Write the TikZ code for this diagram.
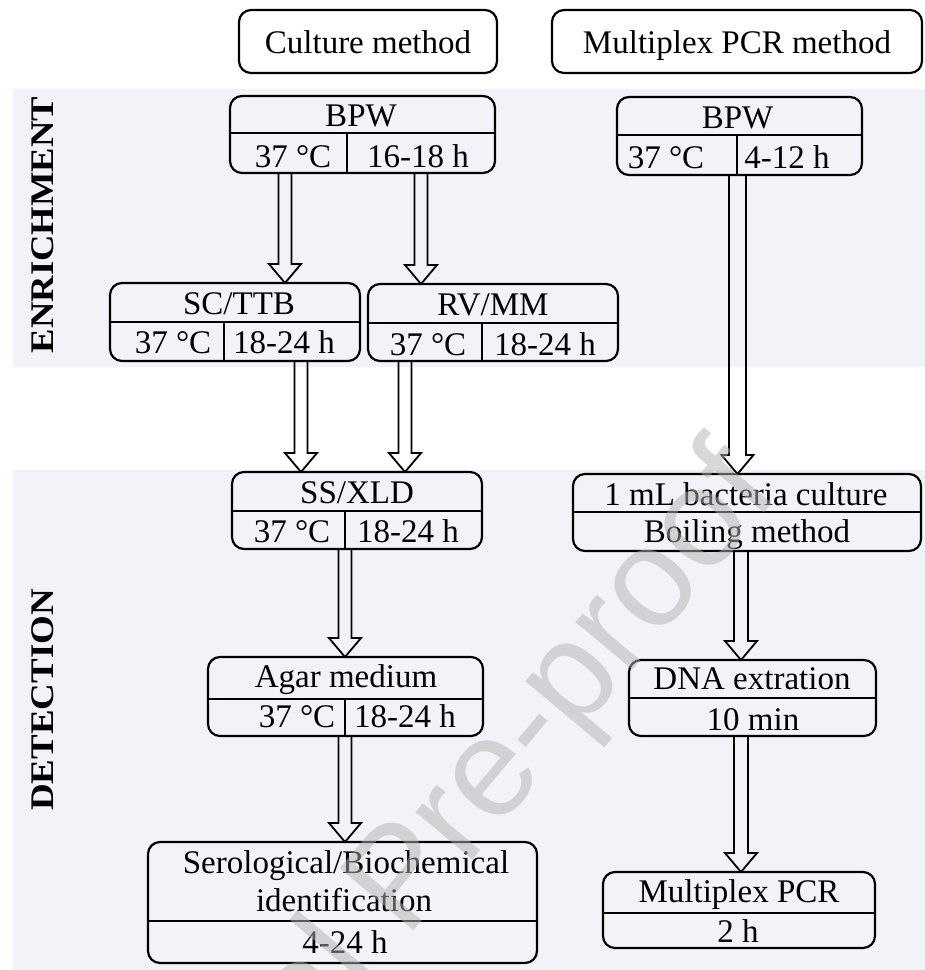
\documentclass[tikz,border=0pt]{standalone}
\usepackage{fontspec}
\setmainfont{Liberation Serif}
\newfontfamily\wmfont{Liberation Sans}
\usetikzlibrary{calc}
\definecolor{band}{RGB}{241,243,248}
\newcommand\rbox[5]{\node[box, minimum width={#4-#2}, minimum height={#5-#3}] (#1) at ({(#2+#4)/2},{(#3+#5)/2}) {};}
\newcommand\blockarr[3]{%
  \draw[arrline] let \p1=#1, \p2=#2 in
   (\x1-#3pt,\y1) -- (\x1-#3pt,\y2+19pt) -- (\x1-16pt,\y2+19pt) -- (\x1,\y2)
   -- (\x1+16pt,\y2+19pt) -- (\x1+#3pt,\y2+19pt) -- (\x1+#3pt,\y1);}
\begin{document}
\begin{tikzpicture}[x=1pt,y=-1pt,
  every node/.style={font=\fontsize{33}{38}\selectfont, inner sep=0pt, outer sep=0pt},
  box/.style={draw, line width=2.2pt, rounded corners=12pt},
  sep/.style={line width=2pt},
  arrline/.style={line width=1.8pt, line join=miter},
  lbl/.style={anchor=base},
  side/.style={rotate=90, font=\bfseries\fontsize{33}{38}\selectfont},
  wm/.style={rotate=50, anchor=base east, text=gray!60, text opacity=0.5,
    font=\wmfont\fontsize{140}{140}\selectfont}]
\useasboundingbox (0,0) rectangle (925,970);
\fill[white] (0,0) rectangle (925,970);
% bands
\fill[band] (13,89) rectangle (925,367);
\fill[band] (13,470) rectangle (925,970);
\node[side] (enr) at (43,225) {\scalebox{1.11}[1]{ENRICHMENT}};
\node[side] (det) at (43,700) {\scalebox{1.12}[1]{DETECTION}};
% headers
\rbox{H1}{239}{10}{497}{73}
\rbox{H2}{552}{10}{922}{73}
\node[lbl] (tH1) at (368,53) {Culture method};
\node[lbl] (tH2) at (737,53) {Multiplex PCR method};
% culture column
\rbox{B1}{230}{96}{495}{173}
\draw[sep] (230,133) -- (495,133); \draw[sep] (347,133) -- (347,173);
\node[lbl] (tB1) at (361,126) {BPW};
\node[lbl] (tB1a) at (293,167) {37 °C};
\node[lbl] (tB1b) at (418,167) {16-18 h};
\rbox{SC}{110}{283}{360}{361}
\draw[sep] (110,322) -- (360,322); \draw[sep] (224,322) -- (224,361);
\node[lbl] (tSC) at (239,314) {SC/TTB};
\node[lbl] (tSCa) at (173,353) {37 °C};
\node[lbl] (tSCb) at (284,353) {18-24 h};
\rbox{RV}{368}{284}{618}{361}
\draw[sep] (368,323) -- (618,323); \draw[sep] (482,323) -- (482,361);
\node[lbl] (tRV) at (493,315) {RV/MM};
\node[lbl] (tRVa) at (428,355) {37 °C};
\node[lbl] (tRVb) at (545,355) {18-24 h};
\rbox{SS}{232}{472}{482}{549}
\draw[sep] (232,511) -- (482,511); \draw[sep] (345,511) -- (345,549);
\node[lbl] (tSS) at (357,503) {SS/XLD};
\node[lbl] (tSSa) at (292,542) {37 °C};
\node[lbl] (tSSb) at (408,542) {18-24 h};
\rbox{AG}{208}{657}{483}{736}
\draw[sep] (208,699) -- (483,699); \draw[sep] (345,699) -- (345,736);
\node[lbl] (tAG) at (346,687) {Agar medium};
\node[lbl] (tAGa) at (297,727) {37 °C};
\node[lbl] (tAGb) at (405,727) {18-24 h};
\rbox{SE}{148}{842}{537}{963}
\draw[sep] (148,921) -- (537,921);
\node[lbl] (tSE1) at (346,873) {Serological/Biochemical};
\node[lbl] (tSE2) at (344,911) {identification};
\node[lbl] (tSE3) at (345,953) {4-24 h};
% PCR column
\rbox{B2}{617}{97}{862}{175}
\draw[sep] (617,135) -- (862,135); \draw[sep] (737,135) -- (737,175);
\node[lbl] (tB2) at (737.5,128) {BPW};
\node[lbl] (tB2a) at (666,168) {37 °C};
\node[lbl] (tB2b) at (787,168) {4-12 h};
\rbox{BO}{573}{474}{921}{551}
\draw[sep] (573,512) -- (921,512);
\node[lbl] (tBO1) at (746,505) {1 mL bacteria culture};
\node[lbl] (tBO2) at (747,542) {Boiling method};
\rbox{DN}{629}{660}{876}{736}
\draw[sep] (629,698) -- (876,698);
\node[lbl] (tDN1) at (752,689) {DNA extration};
\node[lbl] (tDN2) at (753,730) {10 min};
\rbox{MP}{603}{872}{875}{948}
\draw[sep] (603,913) -- (875,913);
\node[lbl] (tMP1) at (739,902) {Multiplex PCR};
\node[lbl] (tMP2) at (738,942) {2 h};
% arrows
\coordinate (xa) at (285,0);
\coordinate (xb) at (421,0);
\coordinate (xc) at (301,0);
\coordinate (xd) at (405,0);
\coordinate (xe) at (345,0);
\coordinate (xf) at (737.5,0);
\coordinate (xg) at (741,0);
\blockarr{(B1.south -| xa)}{(SC.north -| xa)}{6.5}
\blockarr{(B1.south -| xb)}{(RV.north -| xb)}{6.5}
\blockarr{(SC.south -| xc)}{(SS.north -| xc)}{6.5}
\blockarr{(RV.south -| xd)}{(SS.north -| xd)}{6.5}
\blockarr{(SS.south -| xe)}{(AG.north -| xe)}{6.5}
\blockarr{(AG.south -| xe)}{(SE.north -| xe)}{6.5}
\blockarr{(B2.south -| xf)}{(BO.north -| xf)}{8.5}
\blockarr{(BO.south -| xg)}{(DN.north -| xg)}{7}
\blockarr{(DN.south -| xg)}{(MP.north -| xg)}{7}
% watermark
\begin{scope}
\clip (0,0) rectangle (925,970);
\node[wm] (wmk) at (782,492) {Journal Pre-proof};
\end{scope}
\end{tikzpicture}
\end{document}
